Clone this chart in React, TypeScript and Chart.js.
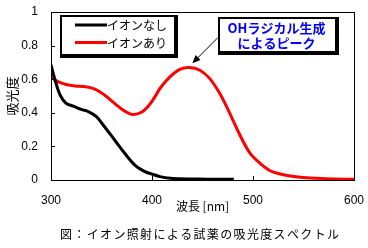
import React, { useEffect, useRef } from "react";
import { Chart, registerables } from "chart.js";

Chart.register(...registerables);

const seriesLabels = ["イオンなし", "イオンあり"];
const seriesColors = ["#000000", "#ff0000"];

const wavelengthNone = [300, 304, 309, 315, 322, 330, 337, 345, 353, 363, 373, 383, 393, 400, 408, 418, 428, 440, 455, 470, 481];
const absNone = [0.685, 0.595, 0.506, 0.456, 0.44, 0.42, 0.407, 0.377, 0.317, 0.238, 0.159, 0.089, 0.05, 0.035, 0.02, 0.01, 0.007, 0.006, 0.005, 0.005, 0.005];

const wavelengthIon = [300, 304, 314, 324, 334, 344, 353, 363, 373, 381, 390, 398, 403, 408, 418, 428, 437, 447, 457, 467, 477, 487, 497, 507, 517, 527, 537, 547, 563, 580, 600];
const absIon = [0.631, 0.595, 0.57, 0.56, 0.555, 0.54, 0.506, 0.456, 0.41, 0.39, 0.405, 0.452, 0.496, 0.546, 0.615, 0.66, 0.67, 0.655, 0.605, 0.516, 0.397, 0.268, 0.16, 0.099, 0.055, 0.036, 0.024, 0.016, 0.01, 0.006, 0.005];

const xTicks = [300, 400, 500, 600];
const yTicks = [0, 0.2, 0.4, 0.6, 0.8, 1];

const xTitle = "波長 [nm]";
const yTitle = "吸光度";
const caption = "図：イオン照射による試薬の吸光度スペクトル";
const noteLines = ["OHラジカル生成", "によるピーク"];
const notePoint = { x: 440, y: 0.695 };

const JP = '"Noto Sans CJK JP", "Noto Sans", sans-serif';
const LAT = '"Liberation Sans", Arial, sans-serif';

function boxWithShadow(ctx: CanvasRenderingContext2D, x: number, y: number, w: number, h: number) {
  ctx.fillStyle = "#000";
  ctx.fillRect(x, y, w + 2, h + 2);
  ctx.fillStyle = "#fff";
  ctx.fillRect(x + 2, y + 2, w - 4, h - 4);
}

function zeroPad(s: any) {
  s.paddingTop = 0;
  s.paddingBottom = 0;
  s.paddingLeft = 0;
  s.paddingRight = 0;
}

const decorPlugin = {
  id: "decor",
  afterDraw(chart: any) {
    const { ctx, chartArea: a, scales } = chart;
    const xs = scales.x;
    const ys = scales.y;
    ctx.save();
    // frame
    ctx.strokeStyle = "#000";
    ctx.lineWidth = 1;
    ctx.strokeRect(Math.round(a.left) + 0.5, Math.round(a.top) + 0.5, Math.round(a.right - a.left), Math.round(a.bottom - a.top));
    // inner ticks
    ctx.beginPath();
    yTicks.forEach((v) => {
      const py = Math.round(ys.getPixelForValue(v)) + 0.5;
      ctx.moveTo(a.left, py);
      ctx.lineTo(a.left + 4, py);
    });
    xTicks.forEach((v) => {
      const px = Math.round(xs.getPixelForValue(v)) + 0.5;
      ctx.moveTo(px, a.bottom);
      ctx.lineTo(px, a.bottom - 4);
    });
    ctx.stroke();

    // legend
    boxWithShadow(ctx, 60, 15, 116, 41);
    chart.data.datasets.forEach((ds: any, i: number) => {
      const y = 25 + i * 17.5;
      ctx.strokeStyle = ds.borderColor;
      ctx.lineWidth = 3;
      ctx.beginPath();
      ctx.moveTo(75, y);
      ctx.lineTo(107, y);
      ctx.stroke();
      ctx.fillStyle = "#000";
      ctx.font = `12px ${JP}`;
      ctx.textAlign = "left";
      ctx.textBaseline = "middle";
      ctx.fillText(ds.label, 107, y + 0.5);
    });

    // annotation
    const bx = 218, by = 17, bw = 119, bh = 36;
    boxWithShadow(ctx, bx, by, bw, bh);
    ctx.fillStyle = "#0000ff";
    ctx.font = `bold 13px ${JP}`;
    ctx.textAlign = "center";
    ctx.textBaseline = "middle";
    ctx.fillText(noteLines[0], bx + bw / 2 - 1, 28);
    ctx.fillText(noteLines[1], bx + bw / 2 - 1, 43.5);
    // arrow
    const tx = xs.getPixelForValue(notePoint.x);
    const ty = ys.getPixelForValue(notePoint.y);
    const sx = bx, sy = 37.5;
    const ang = Math.atan2(ty - sy, tx - sx);
    ctx.strokeStyle = "#000";
    ctx.fillStyle = "#000";
    ctx.lineWidth = 1;
    ctx.beginPath();
    ctx.moveTo(sx, sy);
    ctx.lineTo(tx - Math.cos(ang) * 6, ty - Math.sin(ang) * 6);
    ctx.stroke();
    ctx.beginPath();
    ctx.moveTo(tx, ty);
    ctx.lineTo(tx - Math.cos(ang) * 8 + Math.sin(ang) * 3.5, ty - Math.sin(ang) * 8 - Math.cos(ang) * 3.5);
    ctx.lineTo(tx - Math.cos(ang) * 8 - Math.sin(ang) * 3.5, ty - Math.sin(ang) * 8 + Math.cos(ang) * 3.5);
    ctx.closePath();
    ctx.fill();

    // caption
    ctx.fillStyle = "#000";
    ctx.font = `12px ${JP}`;
    ctx.textAlign = "left";
    ctx.textBaseline = "middle";
    const targetW = 279;
    const n = Array.from(caption).length;
    (ctx as any).letterSpacing = "0px";
    const w0 = ctx.measureText(caption).width;
    const ls = Math.max(0, (targetW - w0) / (n - 1));
    (ctx as any).letterSpacing = `${ls}px`;
    ctx.fillText(caption, 60, 234);
    (ctx as any).letterSpacing = "0px";
    ctx.restore();
  },
};

export default function App() {
  const ref = useRef<HTMLCanvasElement | null>(null);

  useEffect(() => {
    if (!ref.current) return;
    const chart = new Chart(ref.current, {
      type: "line",
      data: {
        datasets: [
          {
            label: seriesLabels[0],
            data: wavelengthNone.map((x, i) => ({ x, y: absNone[i] })),
            borderColor: seriesColors[0],
            backgroundColor: seriesColors[0],
            borderWidth: 3,
            pointRadius: 0,
            tension: 0.35,
            fill: false,
          },
          {
            label: seriesLabels[1],
            data: wavelengthIon.map((x, i) => ({ x, y: absIon[i] })),
            borderColor: seriesColors[1],
            backgroundColor: seriesColors[1],
            borderWidth: 3,
            pointRadius: 0,
            tension: 0.35,
            fill: false,
          },
        ],
      },
      options: {
        responsive: false,
        animation: false,
        devicePixelRatio: 1,
        layout: { padding: { left: 0, right: 14, top: 12, bottom: 0 } },
        plugins: {
          legend: { display: false },
          tooltip: { enabled: false },
        },
        scales: {
          x: {
            type: "linear",
            min: 300,
            max: 600,
            afterBuildTicks: (s: any) => {
              s.ticks = xTicks.map((v) => ({ value: v }));
            },
            afterFit: (s: any) => {
              s.height = 68;
              zeroPad(s);
            },
            grid: { display: false, drawTicks: false },
            border: { display: false },
            ticks: {
              color: "#000",
              font: { family: LAT, size: 12 },
              padding: 13,
              maxRotation: 0,
              autoSkip: false,
            },
            title: {
              display: true,
              text: xTitle,
              color: "#000",
              font: { family: JP, size: 12 },
              padding: { top: 0, bottom: 34.5 },
            },
          },
          y: {
            type: "linear",
            min: 0,
            max: 1,
            afterBuildTicks: (s: any) => {
              s.ticks = yTicks.map((v) => ({ value: v }));
            },
            afterFit: (s: any) => {
              s.width = 51;
              zeroPad(s);
            },
            grid: { display: false, drawTicks: false },
            border: { display: false },
            ticks: {
              color: "#000",
              font: { family: LAT, size: 12 },
              padding: 13,
              callback: (v: any) => String(Math.round(Number(v) * 10) / 10),
            },
            title: {
              display: true,
              text: yTitle,
              color: "#000",
              font: { family: JP, size: 13 },
              padding: { top: 4, bottom: 0 },
            },
          },
        },
      },
      plugins: [decorPlugin],
    } as any);
    return () => chart.destroy();
  }, []);

  return (
    <div style={{ position: "fixed", left: 0, top: 0, width: 368, height: 248, background: "#fff" }}>
      <canvas ref={ref} width={368} height={248} style={{ width: 368, height: 248, display: "block" }} />
    </div>
  );
}
